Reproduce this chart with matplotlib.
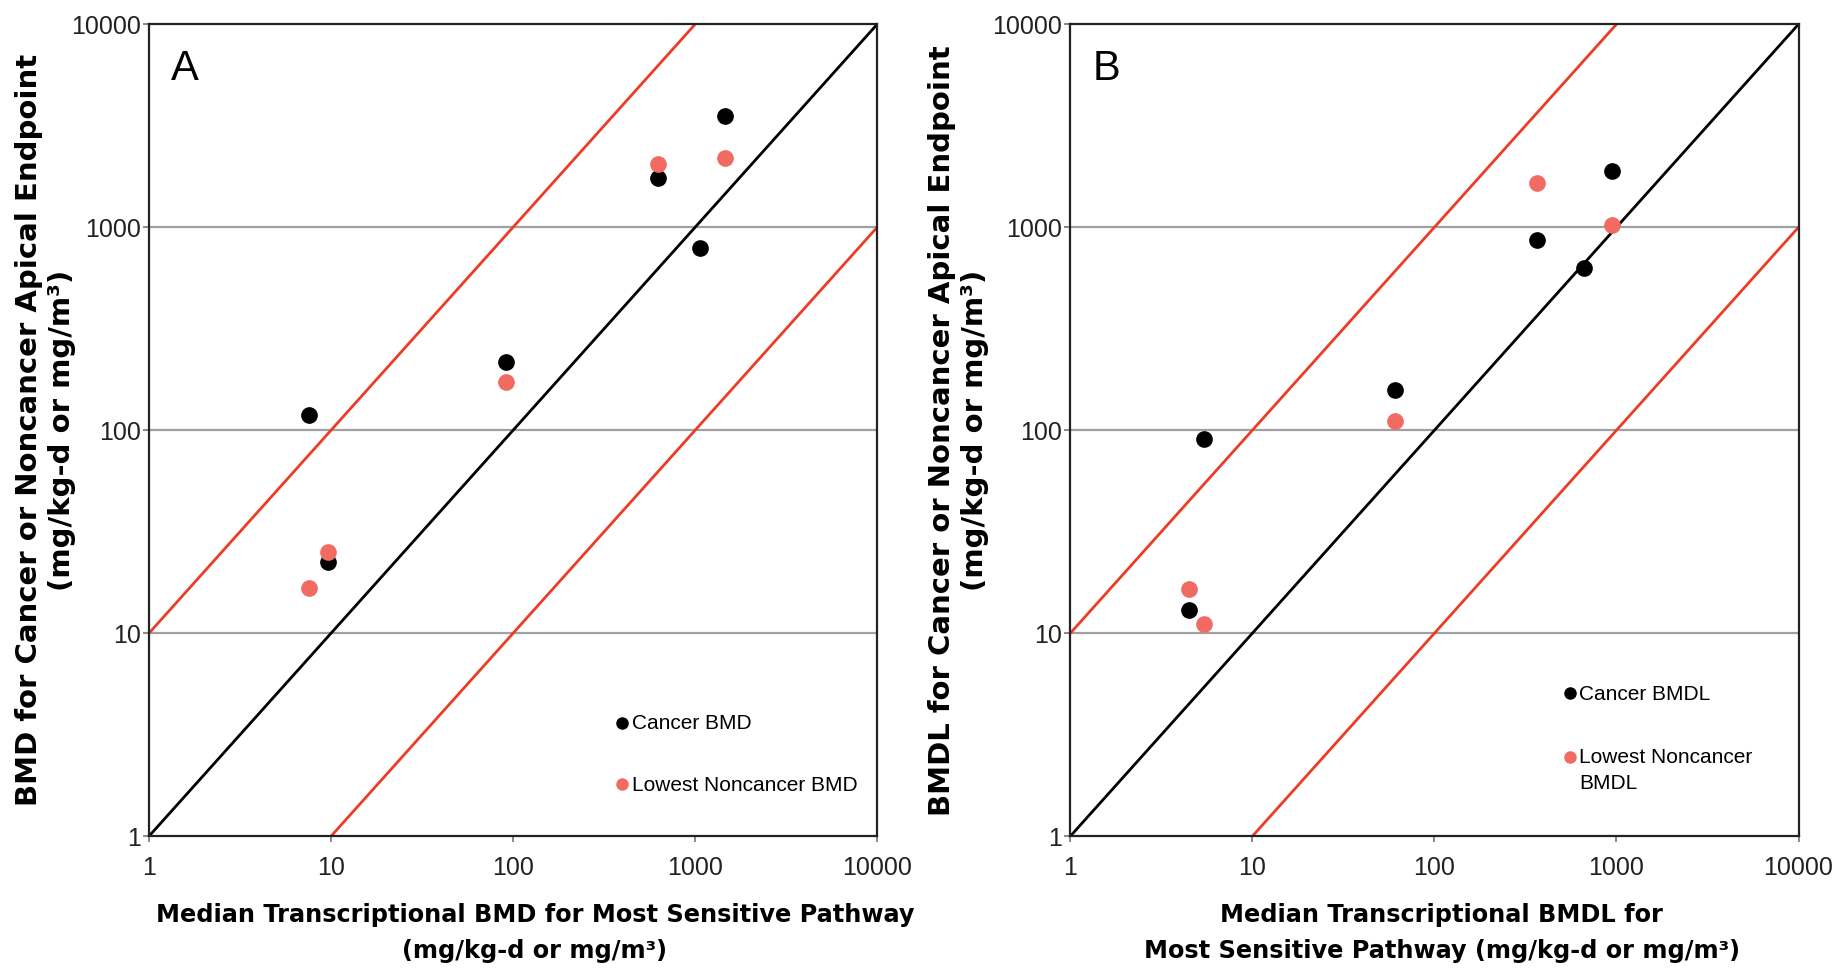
import numpy as np
import matplotlib
matplotlib.use("Agg")
import matplotlib.pyplot as plt

plt.rcParams["font.family"] = ["Liberation Sans", "DejaVu Sans"]

# Panel A: BMD
a_cancer_x = [7.6, 9.6, 91.5, 627, 1069, 1459]
a_cancer_y = [119, 22.5, 216, 1750, 787, 3540]
a_noncancer_x = [7.6, 9.6, 91.5, 627, 1459]
a_noncancer_y = [16.8, 25, 173, 2050, 2190]

# Panel B: BMDL
b_cancer_x = [5.4, 4.5, 60.9, 366, 663, 946]
b_cancer_y = [91, 13, 157, 864, 628, 1893]
b_noncancer_x = [4.5, 5.4, 60.9, 366, 946]
b_noncancer_y = [16.6, 11.1, 111, 1660, 1027]

TICKS = [1, 10, 100, 1000, 10000]
TICK_LABELS = ["1", "10", "100", "1000", "10000"]

RED_LINE = "#ec3c26"
RED_DOT = "#f26b63"
LABEL_FONT = ["DejaVu Sans"]


def draw_panel(ax, letter, cx, cy, nx, ny, xlabel, ylabel, xlab_x, ylab_x):
    ax.set_xscale("log")
    ax.set_yscale("log")
    ax.set_xlim(1, 10000)
    ax.set_ylim(1, 10000)
    for g in (10, 100, 1000):
        ax.axhline(g, color="#a0a0a0", lw=1.6, zorder=0)
    line = np.array([0.1, 100000.0])
    ax.plot(line, line, color="black", lw=2, zorder=1)
    ax.plot(line, line * 10, color=RED_LINE, lw=2, zorder=1)
    ax.plot(line, line / 10, color=RED_LINE, lw=2, zorder=1)
    ax.plot(cx, cy, "o", color="black", ms=11, zorder=3, ls="none")
    ax.plot(nx, ny, "o", color=RED_DOT, ms=11, zorder=3, ls="none")
    ax.set_xticks(TICKS)
    ax.set_xticklabels(TICK_LABELS)
    ax.set_yticks(TICKS)
    ax.set_yticklabels(TICK_LABELS)
    ax.minorticks_off()
    ax.tick_params(length=4, width=1.4, color="#888888", labelsize=18,
                   labelcolor="#222222")
    ax.tick_params(axis="x", pad=10)
    ax.tick_params(axis="y", pad=2)
    for s in ax.spines.values():
        s.set_color("#222222")
        s.set_linewidth(1.6)
    ax.text(0.03, 0.97, letter, transform=ax.transAxes, fontsize=30,
            va="top", ha="left")
    ax.set_xlabel(xlabel, fontsize=17.3, fontweight="bold", family=LABEL_FONT,
                  linespacing=1.6, va="center")
    ax.xaxis.set_label_coords(xlab_x, -0.119)
    ax.set_ylabel(ylabel, fontsize=21, fontweight="bold", family=LABEL_FONT,
                  linespacing=1.22, va="center")
    ax.yaxis.set_label_coords(ylab_x, 0.5)


def legend_entry(ax, x, y, color, label):
    ax.plot([x], [y], "o", color=color, ms=8, transform=ax.transAxes,
            clip_on=False, zorder=4)
    ax.text(x + 0.013, y + 0.0105, label, transform=ax.transAxes,
            fontsize=15, va="top", ha="left", linespacing=1.45)


fig = plt.figure(figsize=(18.39, 9.69), dpi=100)
axA = fig.add_axes([0.081, 0.137, 0.396, 0.838])
axB = fig.add_axes([0.582, 0.137, 0.396, 0.838])

draw_panel(axA, "A", a_cancer_x, a_cancer_y, a_noncancer_x, a_noncancer_y,
           "Median Transcriptional BMD for Most Sensitive Pathway\n(mg/kg-d or mg/m³)",
           "BMD for Cancer or Noncancer Apical Endpoint\n(mg/kg-d or mg/m³)",
           0.53, -0.142)
legend_entry(axA, 0.650, 0.140, "black", "Cancer BMD")
legend_entry(axA, 0.650, 0.064, RED_DOT, "Lowest Noncancer BMD")

draw_panel(axB, "B", b_cancer_x, b_cancer_y, b_noncancer_x, b_noncancer_y,
           "Median Transcriptional BMDL for\nMost Sensitive Pathway (mg/kg-d or mg/m³)",
           "BMDL for Cancer or Noncancer Apical Endpoint\n(mg/kg-d or mg/m³)",
           0.51, -0.154)
legend_entry(axB, 0.686, 0.176, "black", "Cancer BMDL")
legend_entry(axB, 0.686, 0.098, RED_DOT, "Lowest Noncancer\nBMDL")

fig.savefig("out.png", dpi=100)
